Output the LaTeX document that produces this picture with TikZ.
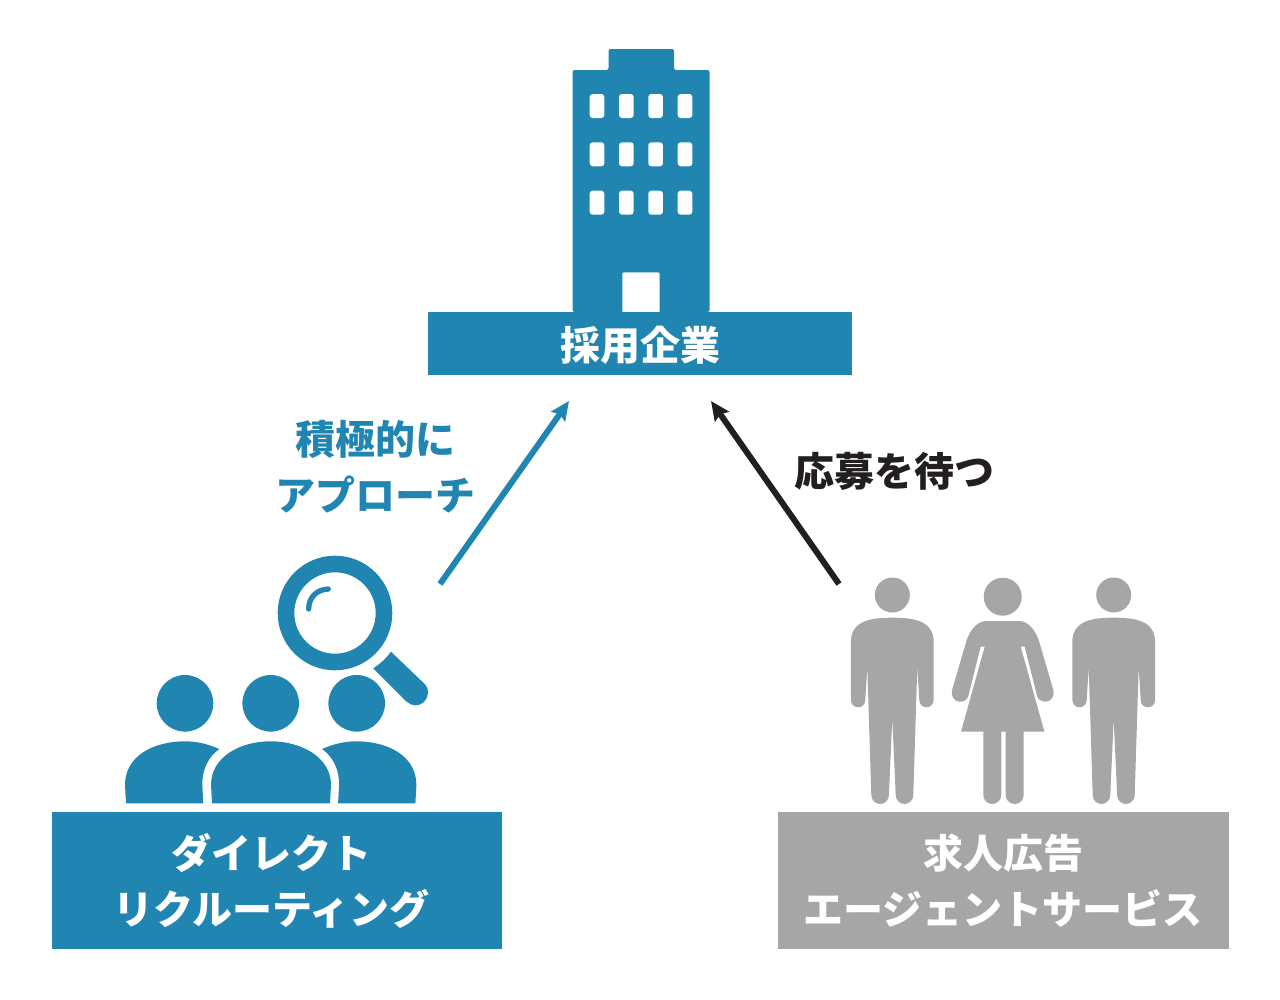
\documentclass[tikz,border=0pt]{standalone}
\usepackage{fontspec}
\usetikzlibrary{arrows.meta}
\newfontfamily\jpfont[BoldFont={Noto Sans CJK JP Black}]{Noto Sans CJK JP}
\definecolor{teal}{HTML}{2185B2}
\definecolor{stone}{HTML}{A6A6A6}
\definecolor{ink}{HTML}{231F20}
\tikzset{
	headline/.style={font=\jpfont\bfseries\fontsize{40}{56}\selectfont, align=center, inner sep=0pt},
	bluebox/.style={fill=teal, minimum width=450pt, minimum height=137pt},
	graybox/.style={fill=stone, minimum width=451pt, minimum height=137pt},
	callarrow/.style={line width=6pt, -{Stealth[length=19pt,width=17pt,inset=3pt]}}
}
\begin{document}
\begin{tikzpicture}[x=1pt,y=-1pt]
	\useasboundingbox (0,0) rectangle (1280,999);

	\fill[teal, rounded corners=2pt] (572.7,312) -- (572.7,70) -- (608.5,70) -- (608.5,49) -- (674,49) -- (674,70) -- (709.5,70) -- (709.5,312) -- cycle;
	\foreach \wy in {94,142.3,190.7} {
		\foreach \wx in {589.7,619,648.3,677.7} {
			\fill[white, rounded corners=3pt] (\wx,\wy) rectangle (\wx+14.6,\wy+24);
		}
	}
	\fill[white, rounded corners=1.5pt] (622.3,314) -- (622.3,272.3) -- (659.7,272.3) -- (659.7,314) -- cycle;
	\node[fill=teal, minimum width=424pt, minimum height=63pt, inner sep=0pt] (company) at (640,343.5) {};
	\node[headline, text=white] (companyname) at (640.5,345.5) {採用企業};

	\node[headline, text=teal] (approach) at (375,466.5) {積極的に\\アプローチ};
	\node[headline, text=ink] (waiting) at (894,471) {応募を待つ};

	\coordinate (bluetail) at (440,584);
	\coordinate (bluetip) at (569,401);
	\coordinate (inktail) at (839,584);
	\coordinate (inktip) at (711,401);
	\draw[callarrow, teal] (bluetail) -- (bluetip);
	\draw[callarrow, ink] (inktail) -- (inktip);

	\draw[teal, line width=16.6pt] (335,613) circle[radius=49pt];
	\draw[teal, line width=5.3pt, line cap=round] (308.7,609) .. controls (308.7,597) and (317,589.5) .. (328.3,589);
	\fill[teal] (391,651.7) .. controls (385.5,659) and (380,664) .. (373.3,668.3) -- (406.7,701.7) .. controls (412,706.5) and (419,706.5) .. (424,702) .. controls (429,697) and (429,689) .. (425.7,685) -- cycle;

	\foreach \hx in {185,270.7,356.7} {
		\fill[teal] (\hx,703.3) circle[radius=28.3pt];
	}
	\fill[teal] (126,803.3) -- (125,785) .. controls (125,755) and (155,741.3) .. (185,741.3) .. controls (198,741.3) and (209,744.5) .. (219.3,749) .. controls (208,757) and (202,770) .. (202.3,785) -- (203.3,803.3) -- cycle;
	\fill[teal] (212,803.3) -- (211,785) .. controls (211,757) and (240,741.3) .. (270.7,741.3) .. controls (301,741.3) and (331,757) .. (331,785) -- (330,803.3) -- cycle;
	\fill[teal] (415.4,803.3) -- (416.4,785) .. controls (416.4,755) and (386.4,741.3) .. (356.4,741.3) .. controls (343.4,741.3) and (332.4,744.5) .. (322.1,749) .. controls (333.4,757) and (339.4,770) .. (339.1,785) -- (338.1,803.3) -- cycle;

	\foreach \mx in {892.3,1113.7} {
		\begin{scope}[shift={(\mx,0)}]
			\fill[stone] (0,595) circle[radius=17.5pt];
			\fill[stone] (0,617.7) .. controls (20,617.7) and (41.4,620) .. (41.4,642) -- (41.4,700) .. controls (41.4,704) and (38,707.3) .. (34.2,707.3) .. controls (30,707.3) and (27,704) .. (27,700) -- (25,667.3) -- (21,795) .. controls (21,800) and (17,804) .. (12.2,804) .. controls (7.5,804) and (3.4,800) .. (3.4,795) -- (0,718.3) -- (-3.4,795) .. controls (-3.4,800) and (-7.5,804) .. (-12.2,804) .. controls (-17,804) and (-21,800) .. (-21,795) -- (-25,667.3) -- (-27,700) .. controls (-27,704) and (-30,707.3) .. (-34.2,707.3) .. controls (-38,707.3) and (-41.4,704) .. (-41.4,700) -- (-41.4,642) .. controls (-41.4,620) and (-20,617.7) .. (0,617.7) -- cycle;
		\end{scope}
	}

	\begin{scope}[shift={(1002.7,0)}]
		\fill[stone] (0,596.7) circle[radius=19pt];
		\fill[stone] (-16,621) -- (16,621) .. controls (25,621) and (32,629) .. (36,640) -- (50.6,690) .. controls (52.5,696) and (48,701.7) .. (43,701.7) .. controls (38,701.7) and (35,699) .. (34.4,696) -- (22,646.7) -- (18,646.7) -- (41.7,731.7) -- (21,731.7) -- (21,795) .. controls (21,800) and (17,804) .. (12,804) .. controls (7,804) and (3,800) .. (3,795) -- (3,731.7) -- (-1.4,731.7) -- (-1.4,795) .. controls (-1.4,800) and (-5.5,804) .. (-10.4,804) .. controls (-15.5,804) and (-19.4,800) .. (-19.4,795) -- (-19.4,731.7) -- (-41.7,731.7) -- (-18,646.7) -- (-22,646.7) -- (-34.4,696) .. controls (-35,699) and (-38,701.7) .. (-43,701.7) .. controls (-48,701.7) and (-52.5,696) .. (-50.6,690) -- (-36,640) .. controls (-32,629) and (-25,621) .. (-16,621) -- cycle;
	\end{scope}

	\node[bluebox] (recruitbox) at (277,880.5) {};
	\node[headline, text=white] (recruiting) at (271.5,880.5) {ダイレクト\\リクルーティング};
	\node[graybox] (agencybox) at (1003.5,880.5) {};
	\node[headline, text=white] (agency) at (1003,880.5) {求人広告\\エージェントサービス};
\end{tikzpicture}
\end{document}
